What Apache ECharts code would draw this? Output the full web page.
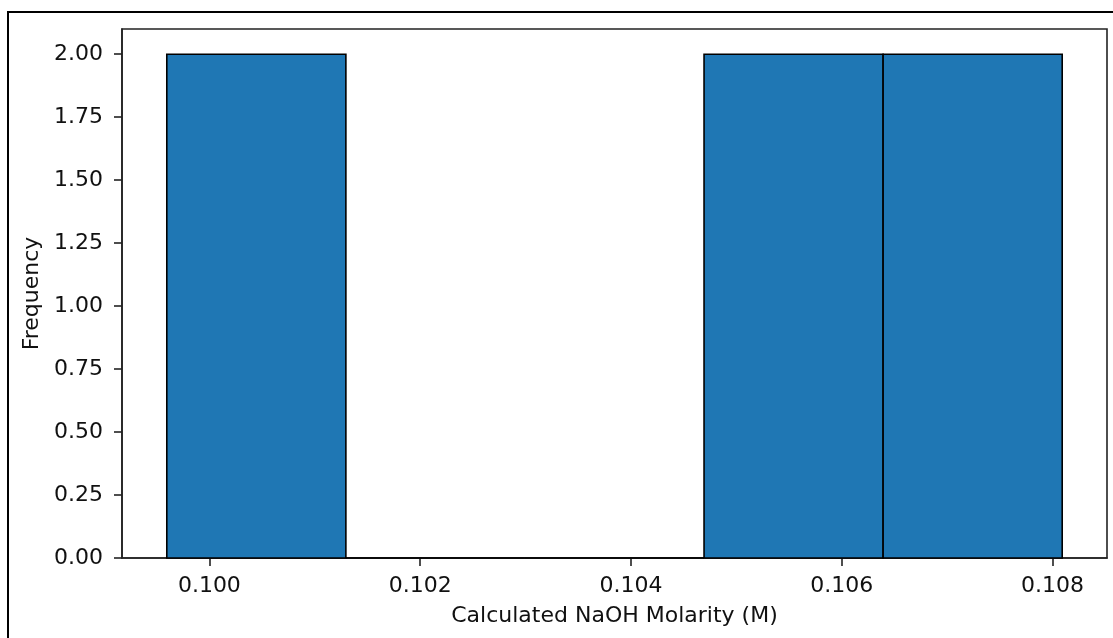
<!DOCTYPE html>
<html>
<head>
<meta charset="utf-8">
<script src="https://cdn.jsdelivr.net/npm/echarts@6/dist/echarts.min.js"></script>
<style>
  html, body { margin: 0; padding: 0; background: #fff; }
  #main { width: 1113px; height: 638px; }
</style>
</head>
<body>
<div id="main"></div>
<script>
// histogram bins (edges) and counts
var binEdges = [0.099596, 0.101295, 0.102994, 0.104693, 0.106392, 0.108091];
var counts = [2, 0, 0, 2, 2];
var xTicks = [0.100, 0.102, 0.104, 0.106, 0.108];
var yTicks = [0, 0.25, 0.5, 0.75, 1.0, 1.25, 1.5, 1.75, 2.0];

var bins = [];
for (var i = 0; i < counts.length; i++) {
    bins.push([binEdges[i], binEdges[i + 1], counts[i]]);
}

var myChart = echarts.init(document.getElementById('main'));
var font = 'DejaVu Sans';
var fs = 22;
var option = {
    animation: false,
    backgroundColor: '#fff',
    textStyle: { fontFamily: font },
    graphic: [{
        type: 'rect',
        shape: { x: 8, y: 12, width: 1200, height: 700 },
        style: { fill: 'none', stroke: '#000', lineWidth: 2 }
    }],
    grid: {
        left: 122, top: 29, right: 6, bottom: 80,
        show: true,
        borderColor: '#222',
        borderWidth: 1.6
    },
    xAxis: {
        type: 'value',
        min: 0.099171,
        max: 0.108516,
        name: 'Calculated NaOH Molarity (M)',
        nameLocation: 'middle',
        nameGap: 47,
        nameTextStyle: { fontSize: fs, color: '#111', fontFamily: font },
        axisLine: { show: true, onZero: false, lineStyle: { color: '#222', width: 1.6 } },
        axisTick: { show: true, length: 8, lineStyle: { color: '#222', width: 1.6 }, customValues: xTicks },
        axisLabel: {
            fontSize: fs, color: '#111', fontFamily: font, margin: 17,
            customValues: xTicks,
            formatter: function (v) { return v.toFixed(3); }
        },
        splitLine: { show: false }
    },
    yAxis: {
        type: 'value',
        min: 0,
        max: 2.1,
        name: 'Frequency',
        nameLocation: 'middle',
        nameGap: 78,
        nameTextStyle: { fontSize: fs, color: '#111', fontFamily: font },
        axisLine: { show: true, lineStyle: { color: '#222', width: 1.6 } },
        axisTick: { show: true, length: 8, lineStyle: { color: '#222', width: 1.6 }, customValues: yTicks },
        axisLabel: {
            fontSize: fs, color: '#111', fontFamily: font, margin: 19,
            customValues: yTicks,
            formatter: function (v) { return v.toFixed(2); }
        },
        splitLine: { show: false }
    },
    series: [{
        type: 'custom',
        data: bins,
        encode: { x: [0, 1], y: 2 },
        renderItem: function (params, api) {
            var p0 = api.coord([api.value(0), api.value(2)]);
            var p1 = api.coord([api.value(1), 0]);
            return {
                type: 'rect',
                shape: { x: p0[0], y: p0[1], width: p1[0] - p0[0], height: p1[1] - p0[1] },
                style: { fill: '#1f77b4', stroke: '#000', lineWidth: 1.6 }
            };
        }
    }]
};
myChart.setOption(option);
</script>
</body>
</html>
